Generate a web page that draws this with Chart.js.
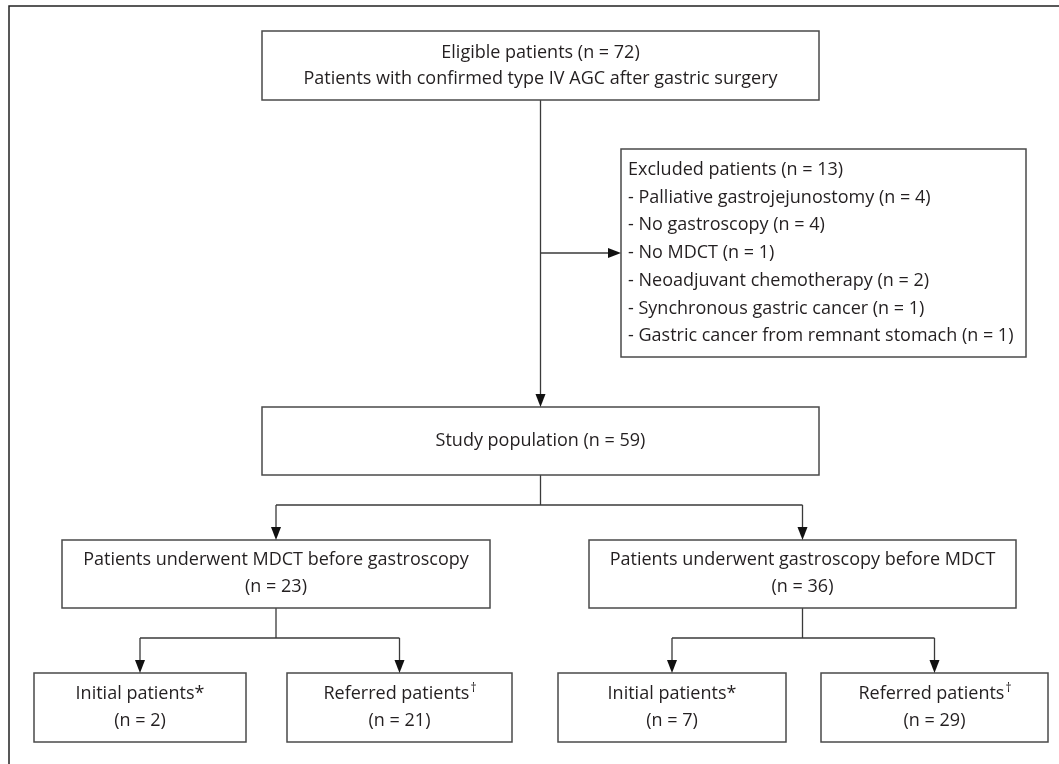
<!DOCTYPE html>
<html>
<head>
<meta charset="utf-8">
<script src="https://cdn.jsdelivr.net/npm/chart.js@4.4.1/dist/chart.umd.min.js"></script>
<style>
    body { margin: 0; background: #fff; }
    #wrap { width: 1059px; height: 764px; }
</style>
</head>
<body>
<div id="wrap"><canvas id="flow" width="1059" height="764"></canvas></div>
<script>
// flow values
const eligibleN = 72;
const excludedN = 13;
const exclusionReasons = ['Palliative gastrojejunostomy', 'No gastroscopy', 'No MDCT',
    'Neoadjuvant chemotherapy', 'Synchronous gastric cancer', 'Gastric cancer from remnant stomach'];
const exclusionCounts = [4, 4, 1, 2, 1, 1];
const studyN = 59;
const groupLabels = ['Patients underwent MDCT before gastroscopy', 'Patients underwent gastroscopy before MDCT'];
const groupCounts = [23, 36];
const subLabels = ['Initial patients*', 'Referred patients'];
const subMarks = ['', '\u2020'];
const subCounts = [2, 21, 7, 29];

// layout in chart units (x 0..1059, y 0..764 top-down)
const layout = {
    frame: [9, 6],
    top: [262, 31, 819, 100],
    excluded: [621, 149, 1026, 357],
    study: [262, 407, 819, 475],
    groups: [[62, 540, 490, 608], [589, 540, 1016, 608]],
    subs: [[34, 673, 246, 742], [287, 673, 512, 742], [558, 673, 786, 742], [821, 673, 1048, 742]],
    branch1Y: 505,
    branch2Y: 638
};

const FONT = '"Open Sans", sans-serif';
const SIZE = 18;
const TEXT = '#231f20';
const LINE = '#3a3a3a';
const ARROW = 13;

const cx = b => (b[0] + b[2]) / 2;
const cy = b => (b[1] + b[3]) / 2;

function seg(points) {
    return {
        type: 'line',
        data: points.map(p => ({x: p[0], y: p[1]})),
        borderColor: LINE,
        borderWidth: 1.3,
        pointRadius: 0,
        fill: false,
        tension: 0
    };
}

const mx = cx(layout.top);
const sideY = cy(layout.excluded);
const connectors = [
    seg([[mx, layout.top[3]], [mx, layout.study[1] - ARROW]]),
    seg([[mx, sideY], [layout.excluded[0] - ARROW, sideY]]),
    seg([[mx, layout.study[3]], [mx, layout.branch1Y]]),
    seg([[cx(layout.groups[0]), layout.branch1Y], [cx(layout.groups[1]), layout.branch1Y]]),
    seg([[cx(layout.groups[0]), layout.branch1Y], [cx(layout.groups[0]), layout.groups[0][1] - ARROW]]),
    seg([[cx(layout.groups[1]), layout.branch1Y], [cx(layout.groups[1]), layout.groups[1][1] - ARROW]])
];
layout.groups.forEach((g, i) => {
    const a = layout.subs[i * 2], b = layout.subs[i * 2 + 1];
    connectors.push(seg([[cx(g), g[3]], [cx(g), layout.branch2Y]]));
    connectors.push(seg([[cx(a), layout.branch2Y], [cx(b), layout.branch2Y]]));
    connectors.push(seg([[cx(a), layout.branch2Y], [cx(a), a[1] - ARROW]]));
    connectors.push(seg([[cx(b), layout.branch2Y], [cx(b), b[1] - ARROW]]));
});

const flowPlugin = {
    id: 'flow',
    afterDatasetsDraw(chart) {
        const ctx = chart.ctx;
        const sx = v => chart.scales.x.getPixelForValue(v);
        const sy = v => chart.scales.y.getPixelForValue(v);

        function box(b) {
            ctx.save();
            ctx.strokeStyle = '#4a4a4a';
            ctx.lineWidth = 1.5;
            ctx.strokeRect(sx(b[0]), sy(b[1]), sx(b[2]) - sx(b[0]), sy(b[3]) - sy(b[1]));
            ctx.restore();
        }

        function text(str, x, y, align, mark) {
            ctx.save();
            ctx.fillStyle = TEXT;
            ctx.font = SIZE + 'px ' + FONT;
            ctx.textBaseline = 'middle';
            if (mark) {
                const w = ctx.measureText(str).width;
                ctx.font = '12px ' + FONT;
                const mw = ctx.measureText(mark).width;
                const left = sx(x) - (w + mw) / 2;
                ctx.textAlign = 'left';
                ctx.fillText(mark, left + w + 1, sy(y) - 5);
                ctx.font = SIZE + 'px ' + FONT;
                ctx.fillText(str, left, sy(y));
            } else {
                ctx.textAlign = align;
                ctx.fillText(str, sx(x), sy(y));
            }
            ctx.restore();
        }

        function arrow(x, y, dir) {
            const tx = sx(x), ty = sy(y);
            ctx.save();
            ctx.fillStyle = '#111';
            ctx.beginPath();
            if (dir === 'down') {
                ctx.moveTo(tx, ty);
                ctx.lineTo(tx - 5, ty - ARROW);
                ctx.lineTo(tx + 5, ty - ARROW);
            } else {
                ctx.moveTo(tx, ty);
                ctx.lineTo(tx - ARROW, ty - 5);
                ctx.lineTo(tx - ARROW, ty + 5);
            }
            ctx.closePath();
            ctx.fill();
            ctx.restore();
        }

        // outer frame (only top and left edges are in view)
        ctx.save();
        ctx.strokeStyle = '#222';
        ctx.lineWidth = 1.5;
        ctx.beginPath();
        ctx.moveTo(sx(layout.frame[0]), sy(764));
        ctx.lineTo(sx(layout.frame[0]), sy(layout.frame[1]));
        ctx.lineTo(sx(1059), sy(layout.frame[1]));
        ctx.stroke();
        ctx.restore();

        const t = layout.top;
        box(t);
        text('Eligible patients (n = ' + eligibleN + ')', cx(t), cy(t) - 13, 'center');
        text('Patients with confirmed type IV AGC after gastric surgery', cx(t), cy(t) + 13, 'center');

        // excluded list, middle line sits on the side arrow
        const e = layout.excluded;
        const step = 27.7;
        const lines = ['Excluded patients (n = ' + excludedN + ')']
            .concat(exclusionReasons.map((r, i) => '- ' + r + ' (n = ' + exclusionCounts[i] + ')'));
        box(e);
        lines.forEach((l, i) => {
            text(l, e[0] + 7, sideY + (i - 3) * step, 'left');
        });

        const s = layout.study;
        box(s);
        text('Study population (n = ' + studyN + ')', cx(s), cy(s), 'center');

        layout.groups.forEach((g, i) => {
            box(g);
            text(groupLabels[i], cx(g), cy(g) - 14, 'center');
            text('(n = ' + groupCounts[i] + ')', cx(g), cy(g) + 13, 'center');
            arrow(cx(g), g[1], 'down');
        });

        layout.subs.forEach((b, i) => {
            box(b);
            text(subLabels[i % 2], cx(b), cy(b) - 14, 'center', subMarks[i % 2]);
            text('(n = ' + subCounts[i] + ')', cx(b), cy(b) + 13, 'center');
            arrow(cx(b), b[1], 'down');
        });

        arrow(mx, s[1], 'down');
        arrow(e[0], sideY, 'right');
    }
};

new Chart(document.getElementById('flow'), {
    type: 'scatter',
    data: {datasets: connectors},
    options: {
        responsive: false,
        animation: false,
        layout: {padding: 0},
        plugins: {legend: {display: false}, tooltip: {enabled: false}},
        scales: {
            x: {type: 'linear', min: 0, max: 1059, display: false},
            y: {type: 'linear', min: 0, max: 764, reverse: true, display: false}
        }
    },
    plugins: [flowPlugin]
});
</script>
</body>
</html>
